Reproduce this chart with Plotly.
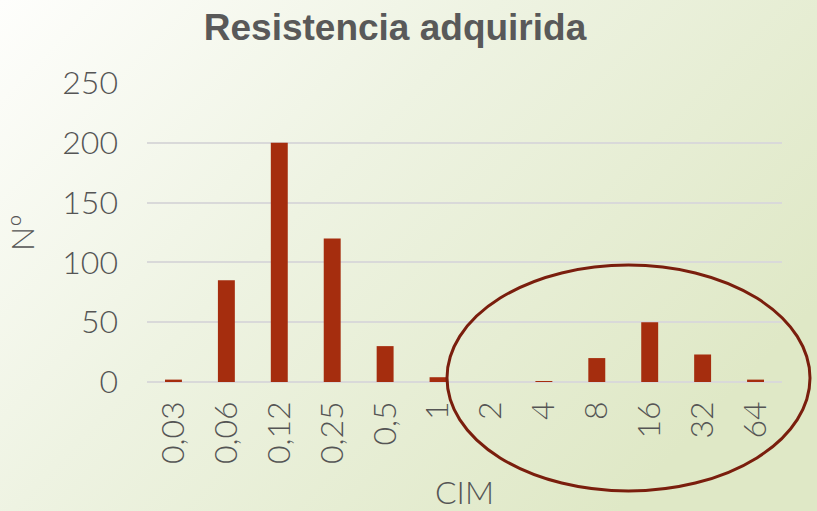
import base64
import plotly.graph_objects as go

# MIC categories and number of isolates
cim = ["0,03", "0,06", "0,12", "0,25", "0,5", "1", "2", "4", "8", "16", "32", "64"]
n_aislados = [2, 85, 200, 120, 30, 4, 0, 0.5, 20, 50, 23, 2]
y_ticks = [0, 50, 100, 150, 200, 250]

W, H = 817, 511
ML, MR, MT, MB = 147, 35, 83, 129
PW, PH = W - ML - MR, H - MT - MB

text_color = "#595959"
font_family = "Lato, Liberation Sans, Arial, sans-serif"
title_family = "Liberation Sans, Arial, sans-serif"

# diagonal background gradient as an inline SVG image
svg = (
    f'<svg xmlns="http://www.w3.org/2000/svg" width="{W}" height="{H}" '
    f'viewBox="0 0 {W} {H}" preserveAspectRatio="none">'
    '<defs><linearGradient id="g" x1="0" y1="0" x2="1" y2="0.6">'
    '<stop offset="0" stop-color="#fefefc"/>'
    '<stop offset="0.45" stop-color="#eef3e2"/>'
    '<stop offset="1" stop-color="#dfe8c6"/>'
    '</linearGradient></defs>'
    f'<rect width="{W}" height="{H}" fill="url(#g)"/></svg>'
)
bg_src = "data:image/svg+xml;base64," + base64.b64encode(svg.encode()).decode()

axis_font = dict(size=32, color="#555555", family=font_family, weight=300)

fig = go.Figure(
    go.Bar(
        x=cim,
        y=n_aislados,
        marker=dict(color="#a52d0e", line=dict(width=0)),
        hoverinfo="x+y",
    )
)

fig.update_layout(
    width=W,
    height=H,
    margin=dict(l=ML, r=MR, t=MT, b=MB, autoexpand=False),
    paper_bgcolor="rgba(0,0,0,0)",
    plot_bgcolor="rgba(0,0,0,0)",
    bargap=0.68,
    showlegend=False,
    font=dict(family=font_family, color=text_color),
    title=dict(
        text="<b>Resistencia adquirida</b>",
        x=395 / W,
        xanchor="center",
        y=1 - 27 / H,
        yanchor="middle",
        font=dict(size=37, color=text_color, family=title_family),
    ),
    xaxis=dict(
        type="category",
        tickangle=-90,
        tickfont=axis_font,
        showgrid=False,
        showline=False,
        ticks="",
        ticklabelstandoff=12,
        title=dict(text="CIM", font=axis_font, standoff=22),
    ),
    yaxis=dict(
        range=[0, 250],
        tickvals=y_ticks,
        tickfont=axis_font,
        showgrid=True,
        gridcolor="#d9d9d9",
        gridwidth=1.5,
        zeroline=True,
        zerolinecolor="#d9d9d9",
        zerolinewidth=1.5,
        showline=False,
        ticks="",
        ticklabelstandoff=28,
        title=dict(text="Nº", font=axis_font, standoff=18),
    ),
    images=[
        dict(
            source=bg_src,
            xref="paper",
            yref="paper",
            x=-ML / PW,
            y=1 + MT / PH,
            sizex=W / PW,
            sizey=H / PH,
            xanchor="left",
            yanchor="top",
            sizing="stretch",
            layer="below",
        )
    ],
    shapes=[
        dict(
            type="circle",
            xref="paper",
            yref="paper",
            x0=(447 - ML) / PW,
            x1=(810 - ML) / PW,
            y0=(MT + PH - 491) / PH,
            y1=(MT + PH - 265) / PH,
            line=dict(color="#7a1e0d", width=3),
            fillcolor="rgba(0,0,0,0)",
            layer="above",
        )
    ],
)

fig.write_html("out.html")
